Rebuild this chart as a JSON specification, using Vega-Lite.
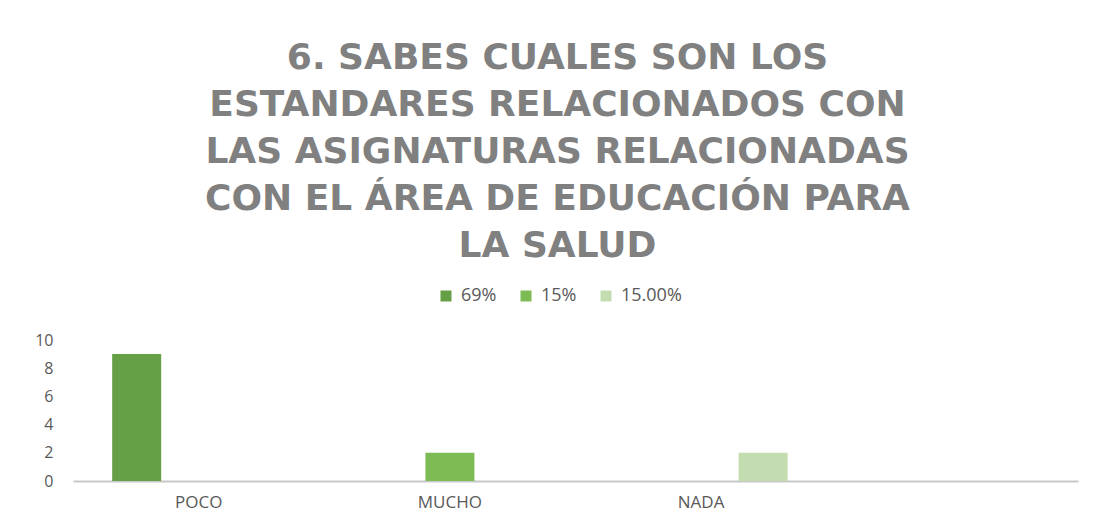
{
  "$schema": "https://vega.github.io/schema/vega-lite/v6.json",
  "width": 1005,
  "height": 141,
  "autosize": "none",
  "padding": {"left": 73, "top": 340, "right": 18, "bottom": 44},
  "background": "white",
  "config": {
    "font": "Open Sans",
    "view": {"stroke": null}
  },
  "title": {
    "text": [
      "6. SABES CUALES SON LOS",
      "ESTANDARES RELACIONADOS CON",
      "LAS ASIGNATURAS RELACIONADAS",
      "CON EL ÁREA DE EDUCACIÓN PARA",
      "LA SALUD"
    ],
    "anchor": "middle",
    "dx": -18,
    "font": "DejaVu Sans",
    "fontSize": 36,
    "fontWeight": "bold",
    "color": "#808080",
    "lineHeight": 47,
    "offset": 22
  },
  "data": {
    "values": [
      {"categoria": "POCO", "serie": "69%", "valor": 9},
      {"categoria": "MUCHO", "serie": "15%", "valor": 2},
      {"categoria": "NADA", "serie": "15.00%", "valor": 2}
    ]
  },
  "mark": {"type": "bar"},
  "encoding": {
    "x": {
      "field": "categoria",
      "type": "nominal",
      "sort": null,
      "scale": {"domain": ["POCO", "MUCHO", "NADA", " "], "paddingInner": 0.259, "paddingOuter": 0.13},
      "axis": {
        "title": null,
        "labelAngle": 0,
        "labelFontSize": 17,
        "labelColor": "#595959",
        "labelPadding": 13,
        "ticks": false,
        "domainColor": "#c8c8c8",
        "domainWidth": 2,
        "grid": false
      }
    },
    "xOffset": {
      "field": "serie",
      "type": "nominal",
      "sort": ["69%", "15%", "15.00%"],
      "scale": {"domain": ["69%", "15%", "15.00%"], "paddingInner": 0.21, "paddingOuter": 0.105}
    },
    "y": {
      "field": "valor",
      "type": "quantitative",
      "scale": {"domain": [0, 10]},
      "axis": {
        "title": null,
        "values": [0, 2, 4, 6, 8, 10],
        "labelOverlap": false,
        "labelFontSize": 16,
        "labelColor": "#595959",
        "labelPadding": 20,
        "ticks": false,
        "domain": false,
        "grid": false
      }
    },
    "color": {
      "field": "serie",
      "type": "nominal",
      "sort": ["69%", "15%", "15.00%"],
      "scale": {"domain": ["69%", "15%", "15.00%"], "range": ["#66a046", "#7dbb55", "#c3ddb1"]},
      "legend": {
        "title": null,
        "orient": "none",
        "legendX": 364,
        "legendY": -53,
        "direction": "horizontal",
        "symbolType": "square",
        "symbolSize": 121,
        "symbolStrokeWidth": 0,
        "labelFontSize": 18,
        "labelColor": "#595959",
        "columnPadding": 20,
        "labelOffset": 6
      }
    }
  }
}
